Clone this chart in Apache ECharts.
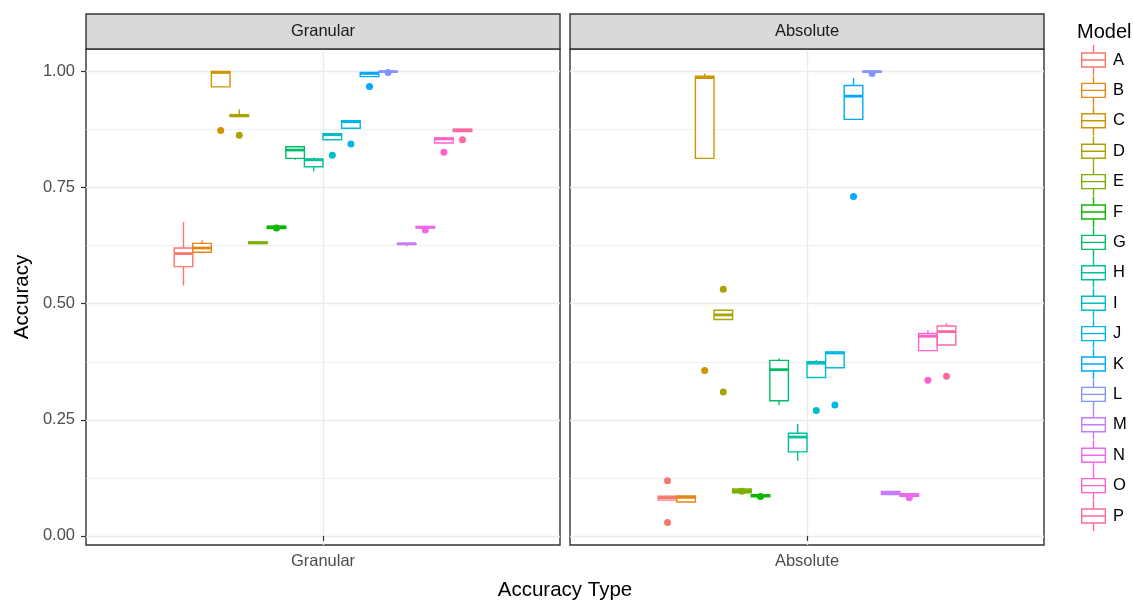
<!DOCTYPE html>
<html>
<head>
<meta charset="utf-8">
<script src="https://cdn.jsdelivr.net/npm/echarts@6/dist/echarts.min.js"></script>
<style>
  html, body { margin: 0; padding: 0; background: #fff; }
  #main { width: 1133px; height: 601px; }
</style>
</head>
<body>
<div id="main"></div>
<script>
// facets and models
const FACETS = ['Granular', 'Absolute'];
const MODELS = ['A', 'B', 'C', 'D', 'E', 'F', 'G', 'H', 'I', 'J', 'K', 'L', 'M', 'N', 'O', 'P'];

// box stats per model: [min, Q1, median, Q3, max]
const granularStats = [
  [0.539, 0.580, 0.608, 0.620, 0.676],
  [0.608, 0.611, 0.620, 0.630, 0.636],
  [0.967, 0.967, 0.998, 1.000, 1.000],
  [0.903, 0.903, 0.905, 0.907, 0.918],
  [0.630, 0.630, 0.631, 0.633, 0.633],
  [0.662, 0.662, 0.665, 0.667, 0.667],
  [0.810, 0.813, 0.831, 0.838, 0.838],
  [0.785, 0.795, 0.810, 0.811, 0.815],
  [0.853, 0.853, 0.864, 0.866, 0.866],
  [0.878, 0.878, 0.892, 0.894, 0.894],
  [0.989, 0.989, 0.996, 0.998, 0.998],
  [0.999, 0.999, 1.000, 1.000, 1.000],
  [0.623, 0.628, 0.629, 0.630, 0.630],
  [0.663, 0.663, 0.665, 0.666, 0.666],
  [0.846, 0.846, 0.855, 0.857, 0.857],
  [0.871, 0.871, 0.874, 0.876, 0.876]
];
const absoluteStats = [
  [0.077, 0.077, 0.0825, 0.0856, 0.0856],
  [0.073, 0.073, 0.083, 0.086, 0.086],
  [0.813, 0.813, 0.987, 0.990, 0.996],
  [0.466, 0.466, 0.476, 0.486, 0.486],
  [0.093, 0.093, 0.097, 0.101, 0.101],
  [0.084, 0.084, 0.087, 0.089, 0.089],
  [0.282, 0.291, 0.358, 0.378, 0.382],
  [0.162, 0.181, 0.213, 0.221, 0.241],
  [0.341, 0.341, 0.372, 0.375, 0.379],
  [0.362, 0.362, 0.394, 0.396, 0.396],
  [0.897, 0.897, 0.947, 0.970, 0.986],
  [0.999, 0.999, 1.000, 1.000, 1.000],
  [0.089, 0.089, 0.092, 0.0955, 0.0955],
  [0.0855, 0.0855, 0.089, 0.0905, 0.0905],
  [0.399, 0.399, 0.430, 0.436, 0.443],
  [0.411, 0.411, 0.440, 0.452, 0.458]
];

// outliers: [model, value]
const granularOutliers = [
  ['C', 0.873], ['D', 0.863], ['F', 0.663], ['I', 0.820], ['J', 0.844],
  ['K', 0.968], ['L', 0.998], ['N', 0.659], ['O', 0.826], ['P', 0.853]
];
const absoluteOutliers = [
  ['A', 0.119], ['A', 0.029], ['C', 0.356], ['D', 0.531], ['D', 0.310],
  ['E', 0.096], ['F', 0.085], ['I', 0.270], ['J', 0.282], ['K', 0.731],
  ['L', 0.996], ['N', 0.082], ['O', 0.335], ['P', 0.344]
];

const Y_TICKS = [0, 0.25, 0.5, 0.75, 1];
const Y_MINOR = [0.125, 0.375, 0.625, 0.875];

const COLORS = ['#F8766D', '#E68613', '#CD9600', '#ABA300', '#7CAE00', '#0CB702', '#00BE67', '#00C19A',
  '#00BFC4', '#00B8E7', '#00A9FF', '#8494FF', '#C77CFF', '#ED68ED', '#FF61CC', '#FF68A1'];

const FONT = "'Liberation Sans', Arial, sans-serif";

// y range like ggplot: data range + 5%
const allVals = [].concat(
  granularStats.flat(), absoluteStats.flat(),
  granularOutliers.map(d => d[1]), absoluteOutliers.map(d => d[1])
);
const lo = Math.min(...allVals), hi = Math.max(...allVals);
const yMin = lo - (hi - lo) * 0.05, yMax = hi + (hi - lo) * 0.05;

// panel layout
const PANEL_TOP = 49, PANEL_H = 496, PANEL_W = 474;
const PANEL_LEFT = [86, 570];
const DODGE_W = 297.6;

const BOX_ICON = 'path://M0,7.3h25v1.4H0z M0,21.3h25v1.4H0z M0,7.3h1.4v15.4H0z M23.6,7.3h1.4v15.4h-1.4z ' +
  'M0,14.3h25v1.4H0z M11.8,0h1.4v7.3h-1.4z M11.8,22.7h1.4v7.3h-1.4z';

function renderBox(params, api) {
  const i = api.value(0);
  const w = api.size([1, 0])[0];
  const c = api.visual('color');
  const pMin = api.coord([i, api.value(1)]);
  const pQ1 = api.coord([i, api.value(2)]);
  const pMed = api.coord([i, api.value(3)]);
  const pQ3 = api.coord([i, api.value(4)]);
  const pMax = api.coord([i, api.value(5)]);
  const x0 = pQ1[0] - w / 2;
  const thin = { stroke: c, lineWidth: 1.4 };
  return {
    type: 'group',
    children: [
      { type: 'line', shape: { x1: pMax[0], y1: pMax[1], x2: pQ3[0], y2: pQ3[1] }, style: thin },
      { type: 'line', shape: { x1: pQ1[0], y1: pQ1[1], x2: pMin[0], y2: pMin[1] }, style: thin },
      { type: 'rect', shape: { x: x0, y: pQ3[1], width: w, height: pQ1[1] - pQ3[1] },
        style: { fill: '#fff', stroke: c, lineWidth: 1.4 } },
      { type: 'line', shape: { x1: x0, y1: pMed[1], x2: x0 + w, y2: pMed[1] },
        style: { stroke: c, lineWidth: 2.8 } }
    ]
  };
}

const grids = [], xAxes = [], yAxes = [], graphics = [];
const series = [];

FACETS.forEach((facet, f) => {
  const left = PANEL_LEFT[f];
  // panel grid
  grids.push({ left: left, top: PANEL_TOP, width: PANEL_W, height: PANEL_H,
    show: true, borderColor: '#333333', borderWidth: 1.4, backgroundColor: '#fff' });
  // overlay grid for dodged boxes
  grids.push({ left: left + PANEL_W / 2 - DODGE_W / 2, top: PANEL_TOP, width: DODGE_W, height: PANEL_H, show: false });
  const gPanel = f * 2, gBox = f * 2 + 1;

  xAxes.push({
    gridIndex: gPanel, type: 'value', min: 0, max: 2,
    axisLine: { show: false },
    axisTick: { show: true, customValues: [1], length: 5, lineStyle: { color: '#333333', width: 1.2 } },
    axisLabel: { show: true, customValues: [1], margin: 8, formatter: () => facet,
      color: '#4D4D4D', fontSize: 16.5, fontFamily: FONT },
    splitLine: { show: true, lineStyle: { color: '#EBEBEB', width: 1.4 } }
  });
  xAxes.push({
    gridIndex: gBox, type: 'category', data: MODELS, boundaryGap: true,
    axisLine: { show: false }, axisTick: { show: false }, axisLabel: { show: false }, splitLine: { show: false }
  });

  const yMajorIdx = yAxes.length;
  yAxes.push({
    gridIndex: gPanel, type: 'value', min: yMin, max: yMax,
    axisLine: { show: false },
    axisTick: { show: f === 0, customValues: Y_TICKS, length: 5, lineStyle: { color: '#333333', width: 1.2 } },
    axisLabel: { show: f === 0, customValues: Y_TICKS, margin: 11, formatter: v => v.toFixed(2),
      color: '#4D4D4D', fontSize: 16.5, fontFamily: FONT },
    splitLine: { show: true, lineStyle: { color: '#EBEBEB', width: 1.4 } }
  });
  yAxes.push({
    gridIndex: gPanel, type: 'value', min: yMin, max: yMax, position: 'left',
    axisLine: { show: false },
    axisTick: { show: false, customValues: Y_MINOR },
    axisLabel: { show: false, customValues: Y_MINOR },
    splitLine: { show: true, lineStyle: { color: '#EBEBEB', width: 0.8 } }
  });
  const yBoxIdx = yAxes.length;
  yAxes.push({
    gridIndex: gBox, type: 'value', min: yMin, max: yMax, show: false,
    splitLine: { show: false }
  });

  // strip
  graphics.push({
    type: 'rect', shape: { x: left, y: 14, width: PANEL_W, height: PANEL_TOP - 14 },
    style: { fill: '#D9D9D9', stroke: '#333333', lineWidth: 1.4 }, z: 10
  });
  graphics.push({
    type: 'text', x: left + PANEL_W / 2, y: 31.5,
    style: { text: facet, fill: '#1A1A1A', font: '16.5px ' + FONT, textAlign: 'center', textVerticalAlign: 'middle' }, z: 11
  });

  const stats = f === 0 ? granularStats : absoluteStats;
  const outliers = f === 0 ? granularOutliers : absoluteOutliers;
  const xBoxIdx = f * 2 + 1;

  MODELS.forEach((m, i) => {
    series.push({
      name: m, type: 'custom', xAxisIndex: xBoxIdx, yAxisIndex: yBoxIdx,
      itemStyle: { color: COLORS[i] },
      renderItem: renderBox,
      encode: { x: 0, y: [1, 2, 3, 4, 5] },
      data: [[i].concat(stats[i])],
      z: 3
    });
    const pts = outliers.filter(d => d[0] === m).map(d => [i, d[1]]);
    if (pts.length) {
      series.push({
        name: m, type: 'scatter', xAxisIndex: xBoxIdx, yAxisIndex: yBoxIdx,
        symbolSize: 7, itemStyle: { color: COLORS[i], opacity: 1 },
        data: pts, z: 4
      });
    }
  });
});

// axis titles
graphics.push({
  type: 'text', x: 565, y: 590,
  style: { text: 'Accuracy Type', fill: '#000', font: '20.5px ' + FONT, textAlign: 'center', textVerticalAlign: 'middle' }
});
graphics.push({
  type: 'text', x: 22, y: 297, rotation: Math.PI / 2,
  style: { text: 'Accuracy', fill: '#000', font: '20.5px ' + FONT, textAlign: 'center', textVerticalAlign: 'middle' }
});
graphics.push({
  type: 'text', x: 1077, y: 32,
  style: { text: 'Model', fill: '#000', font: '20px ' + FONT, textAlign: 'left', textVerticalAlign: 'middle' }
});

const chart = echarts.init(document.getElementById('main'), null, { renderer: 'canvas' });
chart.setOption({
  animation: false,
  backgroundColor: '#fff',
  grid: grids,
  xAxis: xAxes,
  yAxis: yAxes,
  graphic: graphics,
  legend: {
    orient: 'vertical', left: 1081, top: 45, padding: 0,
    itemWidth: 25, itemHeight: 30, itemGap: 0.4,
    selectedMode: false,
    itemStyle: { borderWidth: 0 },
    textStyle: { fontSize: 16.5, color: '#000', fontFamily: FONT, padding: [0, 0, 0, 2] },
    data: MODELS.map(m => ({ name: m, icon: BOX_ICON }))
  },
  series: series
});
</script>
</body>
</html>
